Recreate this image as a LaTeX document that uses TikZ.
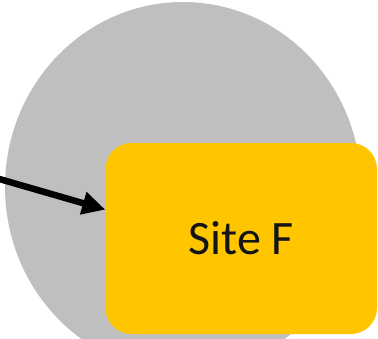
\documentclass[tikz,border=0pt]{standalone}
\usepackage{fontspec}
\setmainfont{Carlito}
\usetikzlibrary{arrows.meta}
\definecolor{zonegray}{HTML}{BFBFBF}
\definecolor{sitegold}{HTML}{FFC600}
\definecolor{inkdark}{HTML}{141414}
\tikzset{
  zone/.style={fill=zonegray, draw=none},
  sitebox/.style={rectangle, fill=sitegold, draw=none, rounded corners=26pt,
    minimum width=271.5pt, minimum height=191pt, inner sep=0pt,
    text=inkdark, font=\fontsize{48}{58}\selectfont},
  feed/.style={draw=black, line width=6.5pt,
    -{Triangle[length=23pt,width=22pt]}}
}
\begin{document}
\begin{tikzpicture}[x=1pt, y=-1pt]
  \useasboundingbox (0,0) rectangle (378,338);
  % service area
  \fill[zone] (183,187) ellipse [x radius=178, y radius=185];
  % site box
  \node[sitebox] (site) at (241.25,238.5) {Site F};
  % incoming link
  \coordinate (src) at (-2,178.6);
  \draw[feed] (src) -- (site.168);
\end{tikzpicture}
\end{document}
